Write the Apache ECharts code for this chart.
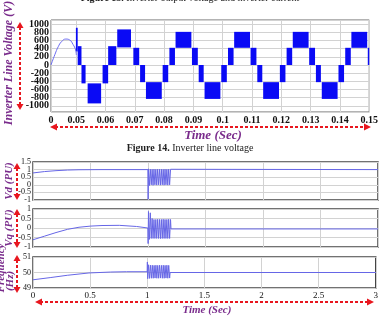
<!DOCTYPE html>
<html>
<head>
<meta charset="utf-8">
<script src="https://cdn.jsdelivr.net/npm/echarts/dist/echarts.min.js"></script>
<style>
  html, body { margin: 0; padding: 0; background: #fff; }
  #main { width: 381px; height: 319px; }
</style>
</head>
<body>
<div id="main"></div>
<script>
// Figure 14 - inverter line voltage (blocks = PWM filled levels)
var sineT = [0.0414, 0.04275, 0.04386, 0.0450, 0.04645, 0.04779, 0.0489, 0.0498, 0.05004];
var sineV = [0, 260, 446, 570, 634, 610, 505, 366, 244];

var blockStart = [0.0499, 0.0505, 0.0518, 0.0539, 0.0590, 0.0609, 0.0640,
  0.0695, 0.0718, 0.0738, 0.0795, 0.0818, 0.0839,
  0.0895, 0.0918, 0.0938, 0.0995, 0.1018, 0.1039,
  0.1095, 0.1118, 0.1138, 0.1195, 0.1218, 0.1239,
  0.1295, 0.1318, 0.1338, 0.1395, 0.1418, 0.1439, 0.1495];
var blockEnd = [0.0505, 0.0518, 0.0532, 0.0585, 0.0609, 0.0637, 0.0687,
  0.0715, 0.0735, 0.0792, 0.0814, 0.0837, 0.0893,
  0.0915, 0.0935, 0.0992, 0.1014, 0.1037, 0.1093,
  0.1115, 0.1135, 0.1192, 0.1214, 0.1237, 0.1293,
  0.1315, 0.1335, 0.1392, 0.1414, 0.1437, 0.1493, 0.1500];
var blockLow = [330, 0, -450, -940, -450, 0, 430,
  0, -420, -830, -420, 0, 420,
  0, -420, -830, -420, 0, 420,
  0, -420, -830, -420, 0, 420,
  0, -420, -830, -420, 0, 420, 0];
var blockHigh = [910, 460, 0, -450, 0, 460, 870,
  420, 0, -420, 0, 420, 810,
  420, 0, -420, 0, 420, 810,
  420, 0, -420, 0, 420, 810,
  420, 0, -420, 0, 420, 810, 420];

// Figure 15 - Vd, Vq, frequency
var burstT = [1.004, 1.012, 1.020, 1.028, 1.036, 1.044, 1.052, 1.060, 1.068, 1.076, 1.084, 1.092, 1.100,
  1.108, 1.116, 1.124, 1.132, 1.140, 1.148, 1.156, 1.164, 1.172, 1.180, 1.188, 1.196];

var vdT = [0, 0.1, 0.2, 0.3, 0.4, 0.6, 0.999, 1.001];
var vdV = [0.78, 0.87, 0.93, 0.97, 0.99, 1.0, 1.0, -0.95];
var vdBurst = [1.05, -0.05, 1.03, 0.0, 1.02, -0.03, 1.03, 0.0, 1.02, -0.02, 1.03, 0.0, 1.02,
  -0.02, 1.03, 0.0, 1.02, -0.02, 1.03, 0.0, 1.02, -0.02, 1.03, 0.0, 1.02];
var vdEndT = [1.2, 3.0];
var vdEndV = [1.0, 1.0];

var vqT = [0, 0.1, 0.2, 0.3, 0.4, 0.5, 0.6, 0.75, 0.9, 0.999, 1.001];
var vqV = [-0.62, -0.43, -0.24, -0.07, 0.04, 0.1, 0.13, 0.14, 0.08, 0.0, -0.82];
var vqBurst = [0.87, -0.6, 0.8, -0.55, 0.5, -0.55, 0.45, -0.55, 0.45, -0.55, 0.46, -0.55, 0.45,
  -0.56, 0.45, -0.55, 0.46, -0.55, 0.45, -0.55, 0.45, -0.55, 0.46, -0.55, 0.45];
var vqEndT = [1.2, 3.0];
var vqEndV = [-0.05, -0.05];

var fT = [0, 0.15, 0.3, 0.49, 0.68, 0.82, 0.999, 1.001];
var fV = [49.53, 49.67, 49.82, 49.97, 50.03, 50.05, 50.05, 50.68];
var fBurst = [49.6, 50.5, 49.62, 50.47, 49.63, 50.47, 49.63, 50.46, 49.64, 50.47, 49.63, 50.46, 49.63,
  50.47, 49.64, 50.46, 49.63, 50.47, 49.63, 50.46, 49.64, 50.47, 49.63, 50.46, 49.64];
var fEndT = [1.2, 3.0];
var fEndV = [50.0, 50.0];

// tick labels, split over two axes per subplot so none get hidden
var vdTicksA = [1.5, 0.5, -0.5];
var vdTicksB = [1, 0, -1];
var vqTicksA = [1, 0, -1];
var vqTicksB = [0.5, -0.5];

function pairs(t, v) {
  return t.map(function (x, i) { return [x, v[i]]; });
}
function trace(t, v, bv, et, ev) {
  return pairs(t, v).concat(pairs(burstT, bv)).concat(pairs(et, ev));
}

var serif = 'Liberation Serif';
var purple = '#7a2c8c';
var red = '#e8161e';

function vArrow(x, y1, y2) {
  return [
    { type: 'line', shape: { x1: x, y1: y1 + 5, x2: x, y2: y2 - 5 },
      style: { stroke: red, lineWidth: 2, lineDash: [3, 2] } },
    { type: 'polygon', shape: { points: [[x, y1], [x - 3.5, y1 + 6], [x + 3.5, y1 + 6]] }, style: { fill: red } },
    { type: 'polygon', shape: { points: [[x, y2], [x - 3.5, y2 - 6], [x + 3.5, y2 - 6]] }, style: { fill: red } }
  ];
}
function hArrow(y, x1, x2) {
  return [
    { type: 'line', shape: { x1: x1 + 5, y1: y, x2: x2 - 5, y2: y },
      style: { stroke: red, lineWidth: 2, lineDash: [3, 2] } },
    { type: 'polygon', shape: { points: [[x1, y], [x1 + 7, y - 3.5], [x1 + 7, y + 3.5]] }, style: { fill: red } },
    { type: 'polygon', shape: { points: [[x2, y], [x2 - 7, y - 3.5], [x2 - 7, y + 3.5]] }, style: { fill: red } }
  ];
}
function label(text, x, y, size, rotate) {
  return {
    type: 'text', x: x, y: y, rotation: rotate ? Math.PI / 2 : 0,
    style: { text: text, font: 'italic bold ' + size + 'px ' + serif, fill: purple, align: 'center', verticalAlign: 'middle' }
  };
}
function caption(num, rest, y) {
  return {
    type: 'text', x: 190, y: y,
    style: {
      text: '{b|' + num + '} ' + rest, font: '10px ' + serif, fill: '#222',
      align: 'center', verticalAlign: 'middle',
      rich: { b: { fontWeight: 'bold', fontSize: 10, fontFamily: serif } }
    }
  };
}

var graphics = []
  .concat([caption('Figure 13.', 'Inverter output voltage and inverter current', -2)])
  .concat([caption('Figure 14.', 'Inverter line voltage', 148)])
  .concat(vArrow(20, 22, 110))
  .concat(hArrow(127, 50, 371))
  .concat(vArrow(17, 163, 200))
  .concat(vArrow(17, 209, 248))
  .concat(vArrow(17, 255, 293))
  .concat(hArrow(302, 35, 374))
  .concat([
    label('Inverter Line Voltage (V)', 9, 63, 12, true),
    label('Time (Sec)', 213, 136, 13, false),
    label('Vd (PU)', 9, 181, 11, true),
    label('Vq (PU)', 9, 228, 11, true),
    label('Frequency', 1, 268, 11, true),
    label('(Hz)', 10, 281, 11, true),
    label('Time (Sec)', 207, 310, 11, false)
  ]);

var myChart = echarts.init(document.getElementById('main'));

var gridLine = { lineStyle: { color: '#d2d2d2', width: 1 } };
function smallLabel(custom) {
  var o = { fontFamily: serif, fontSize: 8, color: '#111', margin: 2, showMinLabel: true, showMaxLabel: true };
  if (custom) o.customValues = custom;
  return o;
}
function subY(grid, min, max, interval, custom, primary) {
  return {
    gridIndex: grid, type: 'value', min: min, max: max, interval: interval, position: 'left',
    axisLine: { show: false }, axisTick: { show: false },
    splitLine: primary ? gridLine : { show: false },
    axisLabel: smallLabel(custom)
  };
}

var option = {
  animation: false,
  graphic: { elements: graphics },
  grid: [
    { left: 51, top: 20, width: 323, height: 92, show: true, borderColor: '#666', borderWidth: 1 },
    { left: 33, top: 162, width: 345, height: 38, show: true, borderColor: '#444', borderWidth: 1.5 },
    { left: 33, top: 209, width: 345, height: 38, show: true, borderColor: '#444', borderWidth: 1.5 },
    { left: 33, top: 257, width: 345, height: 31, show: true, borderColor: '#444', borderWidth: 1.5 }
  ],
  xAxis: [
    {
      gridIndex: 0, type: 'value', min: 0.0414, max: 0.15, splitNumber: 10,
      axisLine: { show: false }, axisTick: { show: false }, splitLine: gridLine,
      axisLabel: {
        margin: 3, showMinLabel: true, showMaxLabel: true,
        fontFamily: serif, fontWeight: 'bold', fontSize: 10, color: '#111',
        formatter: function (v) { return v < 0.045 ? '0' : String(+v.toFixed(2)); }
      }
    },
    { gridIndex: 1, type: 'value', min: 0, max: 3, interval: 0.5, axisLine: { show: false }, axisTick: { show: false },
      splitLine: gridLine, axisLabel: { show: false } },
    { gridIndex: 2, type: 'value', min: 0, max: 3, interval: 0.5, axisLine: { show: false }, axisTick: { show: false },
      splitLine: gridLine, axisLabel: { show: false } },
    { gridIndex: 3, type: 'value', min: 0, max: 3, interval: 0.5, axisLine: { show: false }, axisTick: { show: false },
      splitLine: gridLine, axisLabel: { fontFamily: serif, fontSize: 9, color: '#111', margin: 3 } }
  ],
  yAxis: [
    {
      gridIndex: 0, type: 'value', min: -1150, max: 1100, splitNumber: 11,
      axisLine: { show: false }, axisTick: { show: false }, splitLine: gridLine,
      axisLabel: {
        margin: 2, fontFamily: serif, fontWeight: 'bold', fontSize: 10, color: '#111',
        formatter: function (v) { return Math.abs(v) > 1050 ? '' : String(v); }
      }
    },
    subY(1, -1, 1.5, 0.5, vdTicksA, true),
    subY(2, -1, 1, 0.5, vqTicksA, true),
    subY(3, 49, 51, 1, null, true),
    subY(1, -1, 1.5, 0.5, vdTicksB, false),
    subY(2, -1, 1, 0.5, vqTicksB, false)
  ],
  series: [
    {
      type: 'custom', xAxisIndex: 0, yAxisIndex: 0, clip: true,
      encode: { x: [0, 1], y: [2, 3] },
      data: blockStart.map(function (t, i) { return [t, blockEnd[i], blockLow[i], blockHigh[i]]; }),
      renderItem: function (params, api) {
        var p0 = api.coord([api.value(0), api.value(3)]);
        var p1 = api.coord([api.value(1), api.value(2)]);
        return {
          type: 'rect',
          shape: { x: p0[0], y: p0[1], width: p1[0] - p0[0], height: p1[1] - p0[1] },
          style: { fill: '#0a0af5' }
        };
      }
    },
    { type: 'line', xAxisIndex: 0, yAxisIndex: 0, data: pairs(sineT, sineV), showSymbol: false, smooth: true,
      lineStyle: { color: '#6c6cf0', width: 1 } },
    { type: 'line', xAxisIndex: 1, yAxisIndex: 1, data: trace(vdT, vdV, vdBurst, vdEndT, vdEndV), showSymbol: false,
      lineStyle: { color: '#6666e6', width: 1 } },
    { type: 'line', xAxisIndex: 2, yAxisIndex: 2, data: trace(vqT, vqV, vqBurst, vqEndT, vqEndV), showSymbol: false,
      lineStyle: { color: '#6666e6', width: 1 } },
    { type: 'line', xAxisIndex: 3, yAxisIndex: 3, data: trace(fT, fV, fBurst, fEndT, fEndV), showSymbol: false,
      lineStyle: { color: '#6666e6', width: 1 } }
  ]
};
myChart.setOption(option);
</script>
</body>
</html>
